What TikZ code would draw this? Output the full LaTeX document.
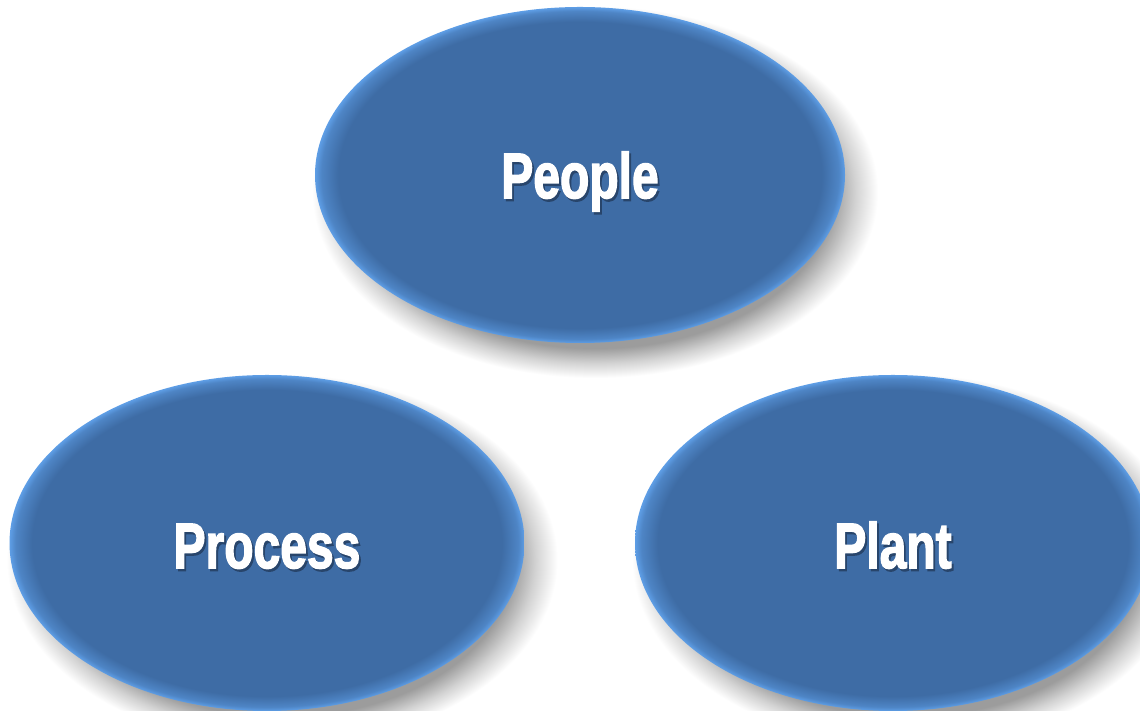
\documentclass[tikz,border=0pt]{standalone}
\usepackage{fontspec}
\setmainfont{Liberation Sans}
\newfontfamily\lblfont[FakeBold=2.5]{Liberation Sans Bold}
\usetikzlibrary{shapes.geometric}
\definecolor{base}{HTML}{3E6CA5}
\definecolor{rimc}{HTML}{5E9EE6}
\definecolor{txtsh}{HTML}{28456B}
\definecolor{shad}{HTML}{9C9C9C}
\pgfdeclareradialshading{rimshade}{\pgfpoint{0bp}{0bp}}{color(0bp)=(base); color(22.8bp)=(base); color(24.4bp)=(base!50!rimc); color(25bp)=(rimc); color(50bp)=(rimc)}
\pgfdeclareradialshading{shadshade}{\pgfpoint{0bp}{0bp}}{color(0bp)=(shad); color(21bp)=(shad); color(23bp)=(shad!45!white); color(25bp)=(white); color(50bp)=(white)}
\newcommand{\lbltext}[1]{\scalebox{0.75}[1]{%
  \rlap{\raisebox{-2.5pt}{\hspace{2.5pt}\textcolor{txtsh}{#1}}}%
  #1}}
\tikzset{
  blob/.style={ellipse, inner sep=0pt, shading=rimshade, draw=none},
  shadowblob/.style={ellipse, inner sep=0pt, shading=shadshade, draw=none},
  lbl/.style={anchor=base, inner sep=0pt, text=white, font=\lblfont\fontsize{64}{64}\selectfont}
}
\begin{document}
\begin{tikzpicture}[x=1pt,y=1pt]
\useasboundingbox (0,0) rectangle (1140,711);
\clip (0,0) rectangle (1140,711);
\fill[white] (0,0) rectangle (1140,711);
% soft shadows
\node[shadowblob, minimum width=566pt, minimum height=372pt] (peopleshadow) at (595,519) {};
\node[shadowblob, minimum width=551pt, minimum height=372pt] (processshadow) at (282,151) {};
\node[shadowblob, minimum width=552pt, minimum height=372pt] (plantshadow) at (908,151) {};
% ellipses
\node[blob, minimum width=530pt, minimum height=336pt] (people) at (580,536) {};
\node[blob, minimum width=515pt, minimum height=336pt] (process) at (267,168) {};
\node[blob, minimum width=516pt, minimum height=336pt] (plant) at (893,168) {};
% labels
\node[lbl] (peopletxt) at ([yshift=-23pt]people.center) {\lbltext{People}};
\node[lbl] (processtxt) at ([yshift=-25pt]process.center) {\lbltext{Process}};
\node[lbl] (planttxt) at ([yshift=-25pt]plant.center) {\lbltext{Plant}};
\end{tikzpicture}
\end{document}
